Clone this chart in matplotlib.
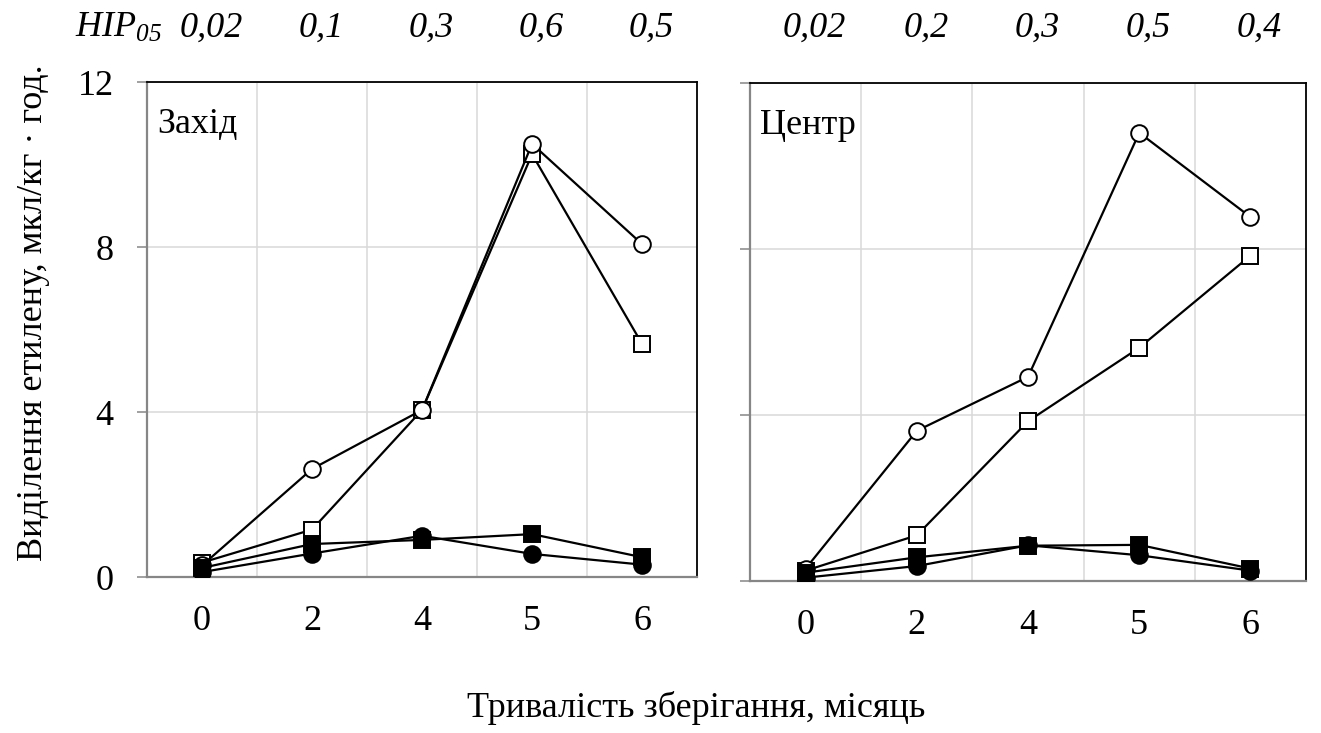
import numpy as np
import matplotlib.pyplot as plt
from matplotlib import transforms

plt.rcParams['font.family'] = ['Liberation Serif', 'DejaVu Serif']
plt.rcParams['mathtext.fontset'] = 'custom'
plt.rcParams['mathtext.it'] = 'Liberation Serif:italic'
plt.rcParams['mathtext.rm'] = 'Liberation Serif:italic'

months = ['0', '2', '4', '5', '6']

# West region
west_open_sq = [0.35, 1.15, 4.05, 10.25, 5.65]
west_open_ci = [0.28, 2.62, 4.05, 10.5, 8.07]
west_full_sq = [0.22, 0.8, 0.9, 1.04, 0.48]
west_full_ci = [0.12, 0.57, 1.0, 0.56, 0.3]
west_hip = ['0,02', '0,1', '0,3', '0,6', '0,5']

# Centre region
centre_open_sq = [0.25, 1.1, 3.85, 5.62, 7.84]
centre_open_ci = [0.3, 3.62, 4.92, 10.8, 8.77]
centre_full_sq = [0.2, 0.57, 0.85, 0.87, 0.3]
centre_full_ci = [0.08, 0.36, 0.86, 0.62, 0.25]
centre_hip = ['0,02', '0,2', '0,3', '0,5', '0,4']

FS = 26
grid_c = '#d9d9d9'
axis_c = '#868686'


def draw_panel(ax, name, open_sq, open_ci, full_sq, full_ci, show_ylabels):
    x = np.arange(len(months))
    kw = dict(color='black', lw=1.6, ms=12, mew=1.4, mec='black', zorder=3)
    ax.plot(x, open_sq, marker='s', mfc='white', **kw)
    ax.plot(x, open_ci, marker='o', mfc='white', **kw)
    ax.plot(x, full_sq, marker='s', mfc='black', **kw)
    ax.plot(x, full_ci, marker='o', mfc='black', **kw)

    ax.set_xlim(-0.5, len(months) - 0.5)
    ax.set_ylim(0, 12)
    ax.set_xticks(x)
    ax.set_xticklabels(months)
    ax.set_xticks(x[:-1] + 0.5, minor=True)
    ax.set_yticks([0, 4, 8, 12])
    ax.grid(True, which='minor', axis='x', color=grid_c, lw=1.1, zorder=0)
    ax.grid(True, which='major', axis='y', color=grid_c, lw=1.1, zorder=0)
    ax.tick_params(axis='x', which='both', length=0, pad=20, labelsize=FS)
    ax.tick_params(axis='y', length=7, width=1.1, color=axis_c, pad=17,
                   labelsize=FS, labelleft=show_ylabels)

    for s in ['left', 'bottom']:
        ax.spines[s].set_color(axis_c)
        ax.spines[s].set_linewidth(1.6)
    for s in ['top', 'right']:
        ax.spines[s].set_color('black')
        ax.spines[s].set_linewidth(1.3)

    ax.text(0.018, 0.915, name, transform=ax.transAxes, fontsize=FS,
            ha='left', va='center')


fig = plt.figure(figsize=(13.21, 7.33), dpi=100)
ax1 = fig.add_axes([0.1113, 0.2128, 0.4164, 0.6753])
ax2 = fig.add_axes([0.5678, 0.2074, 0.4209, 0.6794])

draw_panel(ax1, 'Захід', west_open_sq, west_open_ci, west_full_sq,
           west_full_ci, True)
draw_panel(ax2, 'Центр', centre_open_sq, centre_open_ci, centre_full_sq,
           centre_full_ci, False)

# LSD row above the panels
for ax, hip in [(ax1, west_hip), (ax2, centre_hip)]:
    tr = transforms.blended_transform_factory(ax.transData, fig.transFigure)
    for i, h in enumerate(hip):
        ax.text(i + 0.08, 0.962, h, transform=tr, fontsize=FS,
                style='italic', ha='center', va='center')
fig.text(0.057, 0.962, r'$\mathit{HIP}_{05}$', fontsize=FS,
         ha='left', va='center')

fig.text(0.025, 0.574, 'Виділення етилену, мкл/кг · год.', fontsize=FS,
         rotation=90, ha='center', va='center')
fig.text(0.527, 0.034, 'Тривалість зберігання, місяць', fontsize=FS,
         ha='center', va='center')

fig.savefig('out.png', dpi=100)
